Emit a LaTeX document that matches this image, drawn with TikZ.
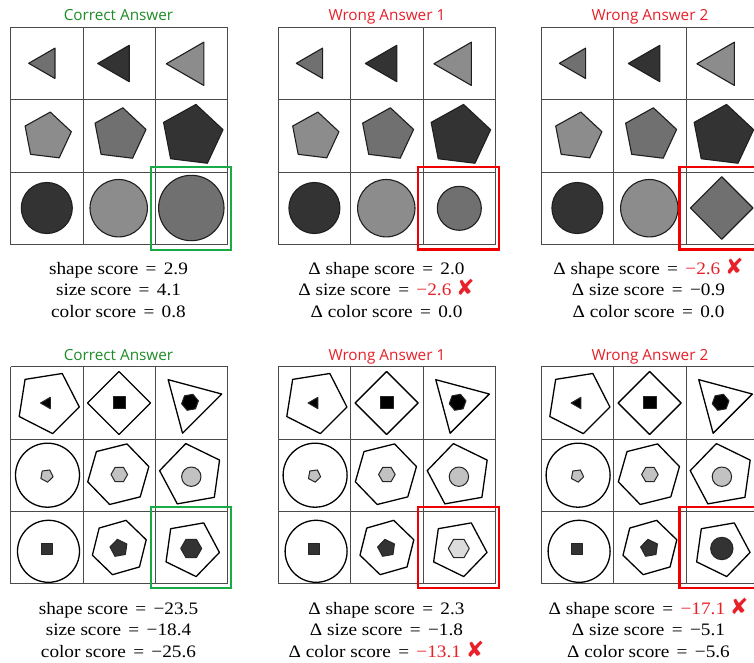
\documentclass[tikz,border=0pt]{standalone}
\usepackage{fontspec}
\setmainfont{Liberation Serif}
\newfontfamily\titlefont{Open Sans}
\newfontfamily\scorefont[FakeStretch=1.1]{Liberation Serif}
\newfontfamily\symfont{DejaVu Sans}
\definecolor{dk}{HTML}{333333}
\definecolor{md}{HTML}{707070}
\definecolor{lt}{HTML}{8C8C8C}
\definecolor{ltg}{HTML}{C2C2C2}
\definecolor{ltt}{HTML}{DCDCDC}
\definecolor{okgreen}{HTML}{1E8C28}
\definecolor{boxgreen}{HTML}{1AAA46}
\definecolor{wrongred}{HTML}{E8202A}
\definecolor{boxred}{HTML}{F00000}
\definecolor{gridc}{HTML}{4A4A4A}
\tikzset{
  gridline/.style={draw=gridc,line width=0.9pt},
  shp/.style={draw=black!88,line width=1.1pt,line join=round},
  outl/.style={draw=black,line width=1.3pt,fill=white,line join=round},
  inn/.style={draw=black!85,line width=1pt,line join=round},
  titletext/.style={font=\titlefont\fontsize{15.3}{17}\selectfont,anchor=base},
  scoretext/.style={font=\scorefont\fontsize{17.5}{20}\selectfont,anchor=base,inner sep=0pt},
  okbox/.style={draw=boxgreen,line width=2.3pt},
  badbox/.style={draw=boxred,line width=2.3pt}
}
% regular polygon: options, cx, cy, sides, radius, first-vertex angle
\newcommand{\rpoly}[6]{%
  \pgfmathtruncatemacro\nlast{#4-1}%
  \draw[#1] ({#2+#5*cos(#6)},{#3-#5*sin(#6)})
    \foreach \k in {1,...,\nlast}{ -- ({#2+#5*cos(#6+360*\k/#4)},{#3-#5*sin(#6+360*\k/#4)}) } -- cycle;}
\newcommand{\cgrid}[2]{%
  \foreach \i in {0,...,3}{%
    \draw[gridline] ({#1+72.4*\i},#2) -- ({#1+72.4*\i},{#2+217.2});
    \draw[gridline] (#1,{#2+72.4*\i}) -- ({#1+217.2},{#2+72.4*\i});
  }}
\newcommand{\toppanel}[1]{%
  \cgrid{#1}{27.3}
  \rpoly{shp,fill=md}{#1+35.5}{63.3}{3}{17.5}{180}
  \rpoly{shp,fill=dk}{#1+108}{63.5}{3}{21}{180}
  \rpoly{shp,fill=lt}{#1+180.6}{63.8}{3}{25}{180}
  \rpoly{shp,fill=lt}{#1+36.6}{136.4}{5}{24.5}{83}
  \rpoly{shp,fill=md}{#1+108.8}{134.6}{5}{27}{83}
  \rpoly{shp,fill=dk}{#1+181.4}{135.7}{5}{31.5}{83}
  \draw[shp,fill=dk] ({#1+36.1},208) circle[radius=25.5];
  \draw[shp,fill=lt] ({#1+108},208.2) circle[radius=28.7];
}
\newcommand{\botpanel}[1]{%
  \cgrid{#1}{366.7}
  \rpoly{outl}{#1+37}{402}{5}{32}{63}
  \rpoly{inn,fill=black}{#1+36.3}{403}{3}{6.5}{180}
  \rpoly{outl}{#1+108.3}{403}{4}{31.5}{90}
  \rpoly{inn,fill=black}{#1+108.8}{402.8}{4}{8.7}{45}
  \rpoly{outl}{#1+180.1}{402.3}{3}{32}{135}
  \rpoly{inn,fill=black}{#1+179.3}{402.3}{6}{8.5}{10}
  \draw[outl] ({#1+36.8},475.2) circle[radius=32];
  \rpoly{inn,fill=ltg}{#1+36}{475.7}{5}{6.5}{-10}
  \rpoly{outl}{#1+107.6}{474.2}{6}{31.5}{14}
  \rpoly{inn,fill=ltg}{#1+108.6}{474.5}{6}{8.3}{0}
  \rpoly{outl}{#1+180.6}{475.1}{5}{32}{100}
  \draw[inn,fill=ltg] ({#1+180.6},476.7) circle[radius=9.7];
  \draw[outl] ({#1+37.8},551.3) circle[radius=31];
  \rpoly{inn,fill=dk}{#1+36}{549.2}{4}{8}{45}
  \rpoly{outl}{#1+108.6}{547.5}{6}{28}{16}
  \rpoly{inn,fill=dk}{#1+108.2}{548.2}{5}{9}{100}
  \rpoly{outl}{#1+180.5}{548.5}{5}{28.5}{64}
}
\newcommand{\eqs}{\hspace{0.42em}=\hspace{0.42em}}
\newcommand{\xmark}{{\symfont\fontsize{22}{22}\selectfont ✘}}
\begin{document}
\begin{tikzpicture}[x=1pt,y=-1pt]
\useasboundingbox (0,0) rectangle (754,663);
\fill[white] (0,0) rectangle (754,663);
\begin{scope}
\clip (0,0) rectangle (754,663);
% ---------- top row ----------
\toppanel{10.7}
\draw[shp,fill=md] ({10.7+180.6},208) circle[radius=32.7];
\toppanel{278.3}
\draw[shp,fill=md] ({278.3+181},208.3) circle[radius=22];
\toppanel{541.3}
\rpoly{shp,fill=md}{541.3+180.4}{208}{4}{31.3}{90}
% ---------- bottom row ----------
\botpanel{10.7}
\rpoly{inn,fill=dk}{10.7+180.5}{548.5}{6}{10.5}{0}
\botpanel{278.3}
\rpoly{inn,fill=ltt}{278.3+180.5}{548.5}{6}{10.5}{0}
\botpanel{541.3}
\draw[inn,fill=dk] ({541.3+180.5},548.5) circle[radius=11.2];
% ---------- highlight boxes ----------
\draw[okbox] (150.8,167.3) rectangle (231,250);
\draw[badbox] (418.2,167.3) rectangle (498.8,249.5);
\draw[badbox] (679.5,167.3) rectangle (770,249.5);
\draw[okbox] (150.8,506.8) rectangle (231,588);
\draw[badbox] (418.2,506.8) rectangle (498.8,588);
\draw[badbox] (679.5,506.8) rectangle (770,588);
\end{scope}
% ---------- titles ----------
\node[titletext,text=okgreen] (t1) at (118.5,21) {Correct Answer};
\node[titletext,text=wrongred] (t2) at (386.9,21) {Wrong Answer 1};
\node[titletext,text=wrongred] (t3) at (649.9,21) {Wrong Answer 2};
\node[titletext,text=okgreen] (t4) at (118.5,360.5) {Correct Answer};
\node[titletext,text=wrongred] (t5) at (386.9,360.5) {Wrong Answer 1};
\node[titletext,text=wrongred] (t6) at (649.9,360.5) {Wrong Answer 2};
% ---------- scores ----------
\node[scoretext] (a1) at (118.5,274) {shape score\eqs 2.9};
\node[scoretext] (a2) at (118.5,295.7) {size score\eqs 4.1};
\node[scoretext] (a3) at (118.5,317.3) {color score\eqs 0.8};
\node[scoretext] (b1) at (386.5,274) {Δ shape score\eqs 2.0};
\node[scoretext] (b2) at (386.5,295.7) {Δ size score\eqs {\color{wrongred}−2.6 \xmark}};
\node[scoretext] (b3) at (386.5,317.3) {Δ color score\eqs 0.0};
\node[scoretext] (c1) at (648.5,274) {Δ shape score\eqs {\color{wrongred}−2.6 \xmark}};
\node[scoretext] (c2) at (648.5,295.7) {Δ size score\eqs −0.9};
\node[scoretext] (c3) at (648.5,317.3) {Δ color score\eqs 0.0};
\node[scoretext] (d1) at (118.5,614) {shape score\eqs −23.5};
\node[scoretext] (d2) at (118.5,635.7) {size score\eqs −18.4};
\node[scoretext] (d3) at (118.5,657.3) {color score\eqs −25.6};
\node[scoretext] (e1) at (386.5,614) {Δ shape score\eqs 2.3};
\node[scoretext] (e2) at (386.5,635.7) {Δ size score\eqs −1.8};
\node[scoretext] (e3) at (386.5,657.3) {Δ color score\eqs {\color{wrongred}−13.1 \xmark}};
\node[scoretext] (f1) at (648.5,614) {Δ shape score\eqs {\color{wrongred}−17.1 \xmark}};
\node[scoretext] (f2) at (648.5,635.7) {Δ size score\eqs −5.1};
\node[scoretext] (f3) at (648.5,657.3) {Δ color score\eqs −5.6};
\end{tikzpicture}
\end{document}
